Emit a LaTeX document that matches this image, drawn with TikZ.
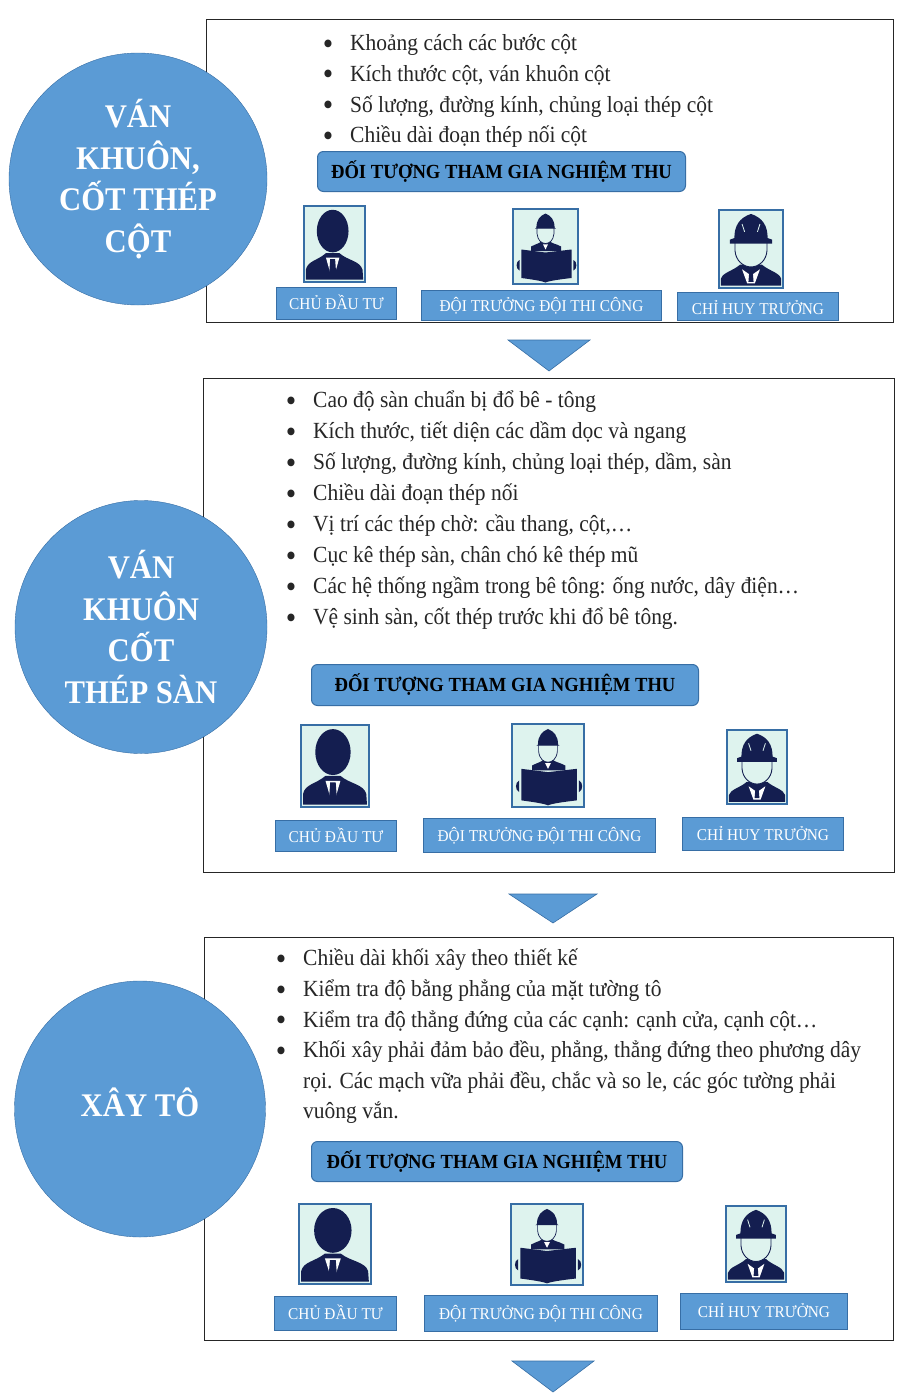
\documentclass[tikz,border=0pt]{standalone}
\usepackage{fontspec}
\setmainfont[FakeStretch=0.93]{Liberation Serif}
\usetikzlibrary{shapes.geometric}
\definecolor{capblue}{RGB}{91,155,213}
\definecolor{edgeblue}{RGB}{55,110,165}
\definecolor{photomint}{RGB}{222,243,238}
\definecolor{navyman}{RGB}{20,30,80}
\newcommand{\bul}{\leavevmode\llap{\raisebox{-3.8pt}{\fontsize{32}{32}\selectfont\textbullet}\hspace{17pt}}}
\tikzset{
panel/.style={draw=black!85,line width=1pt,fill=white,anchor=north west,inner sep=0pt},
topic/.style={ellipse,draw=edgeblue,fill=capblue,align=center,text=white,inner sep=0pt,font=\fontsize{33}{41.5}\selectfont\bfseries},
bullets/.style={anchor=north west,align=left,inner sep=0pt,text=black!85,font=\fontsize{23.1}{30.9}\selectfont},
heading/.style={draw=edgeblue,line width=1pt,fill=capblue,rounded corners=6pt,anchor=north west,inner sep=0pt,font=\fontsize{20}{24}\selectfont\bfseries},
rolebox/.style={draw=edgeblue,line width=1pt,fill=capblue,text=white,anchor=north west,inner sep=0pt,text height=12pt,text depth=0pt,font=\fontsize{16.5}{20}\selectfont},
flowtip/.style={draw=edgeblue,fill=capblue,line width=.6pt},
pics/investor/.style={code={
\draw[draw=edgeblue,line width=1.2pt,fill=photomint] (0,0) rectangle (100,100);
\fill[navyman] (3,97)--(3,84) .. controls (6,72) and (22,72) .. (36,62)--(58,62) .. controls (72,72) and (92,72) .. (96,84)--(97,97)--cycle;
\fill[white!85!photomint] (36,68)--(58,68)--(51,88)--(43,88)--cycle;
\fill[navyman] (43,70)--(51,70)--(53,92)--(41,92)--cycle;
\fill[navyman] (47,33) ellipse (26 and 28);
}},
pics/builder/.style={code={
\draw[draw=edgeblue,line width=1.2pt,fill=photomint] (0,0) rectangle (100,100);
\fill[navyman] (28,56)--(28,50) .. controls (36,46) and (42,46) .. (44,42)--(56,42) .. controls (58,46) and (66,46) .. (74,50)--(74,56)--cycle;
\draw[navyman,fill=photomint,line width=.7pt] (37,25)--(37,33) .. controls (38,42) and (44,46) .. (50,46) .. controls (56,46) and (62,42) .. (63,33)--(63,25)--cycle;
\fill[white] (46,47)--(54,47)--(50,54)--cycle;
\fill[navyman] (34,26)--(36,25) .. controls (36,14) and (42,9) .. (50,6) .. controls (58,9) and (64,14) .. (64,25)--(66,26)--cycle;
\fill[navyman] (13,54)--(50,58)--(90,54)--(90,92) .. controls (70,94) and (55,96) .. (50,98) .. controls (45,96) and (30,94) .. (13,92)--cycle;
\fill[navyman] (10,68) .. controls (4,70) and (4,80) .. (10,82)--cycle;
\fill[navyman] (93,68) .. controls (99,70) and (99,80) .. (93,82)--cycle;
}},
pics/commander/.style={code={
\draw[draw=edgeblue,line width=1.2pt,fill=photomint] (0,0) rectangle (100,100);
\fill[navyman] (3,97)--(3,88) .. controls (6,80) and (22,78) .. (33,70)--(67,70) .. controls (78,78) and (94,80) .. (97,88)--(97,97)--cycle;
\draw[navyman,fill=photomint,line width=.9pt] (25,40)--(25,52) .. controls (26,65) and (38,73) .. (50,73) .. controls (62,73) and (74,65) .. (75,52)--(75,40)--cycle;
\fill[white] (36,76)--(50,84)--(64,76)--(56,94)--(44,94)--cycle;
\fill[navyman] (47,82)--(53,82)--(54,92)--(46,92)--cycle;
\fill[navyman] (17,43)--(17,38)--(24,36) .. controls (24,20) and (32,10) .. (50,5) .. controls (68,10) and (76,20) .. (76,36)--(83,38)--(83,43)--cycle;
\draw[photomint,line width=.8pt] (36,18)--(40,28) (64,18)--(60,28);
}}
}
\begin{document}
\begin{tikzpicture}[x=1pt,y=-1pt]
\useasboundingbox (0,0) rectangle (900,1400);
\node[panel,minimum width=687,minimum height=303] (panelcot) at (206,19) {};
\node[panel,minimum width=691,minimum height=494] (panelsan) at (203,378) {};
\node[panel,minimum width=689,minimum height=403] (panelxay) at (204,937) {};
\node[topic,minimum width=258,minimum height=252] (topiccot) at (138,179) {VÁN\\KHUÔN,\\CỐT THÉP\\CỘT};
\node[topic,minimum width=252,minimum height=253] (topicsan) at (141,627) {VÁN\\KHUÔN\\CỐT\\THÉP SÀN};
\node[topic,minimum width=251,minimum height=256] (topicxay) at (140,1109) {\raisebox{13pt}{XÂY TÔ}};
\node[bullets] (listcot) at (350,34) {\bul Khoảng cách các bước cột\\\bul Kích thước cột, ván khuôn cột\\\bul Số lượng, đường kính, chủng loại thép cột\\\bul Chiều dài đoạn thép nối cột};
\node[bullets] (listsan) at (313,391) {\bul Cao độ sàn chuẩn bị đổ bê - tông\\\bul Kích thước, tiết diện các dầm dọc và ngang\\\bul Số lượng, đường kính, chủng loại thép, dầm, sàn\\\bul Chiều dài đoạn thép nối\\\bul Vị trí các thép chờ: cầu thang, cột,…\\\bul Cục kê thép sàn, chân chó kê thép mũ\\\bul Các hệ thống ngầm trong bê tông: ống nước, dây điện…\\\bul Vệ sinh sàn, cốt thép trước khi đổ bê tông.};
\node[bullets,font=\fontsize{23.1}{30.6}\selectfont] (listxay) at (303,949) {\bul Chiều dài khối xây theo thiết kế\\\bul Kiểm tra độ bằng phẳng của mặt tường tô\\\bul Kiểm tra độ thẳng đứng của các cạnh: cạnh cửa, cạnh cột…\\\bul Khối xây phải đảm bảo đều, phẳng, thẳng đứng theo phương dây\\rọi. Các mạch vữa phải đều, chắc và so le, các góc tường phải\\vuông vắn.};
\node[heading,minimum width=368,minimum height=40] (headcot) at (317,151) {ĐỐI TƯỢNG THAM GIA NGHIỆM THU};
\node[heading,minimum width=387,minimum height=41] (headsan) at (311,664) {ĐỐI TƯỢNG THAM GIA NGHIỆM THU};
\node[heading,minimum width=371,minimum height=40] (headxay) at (311,1141) {ĐỐI TƯỢNG THAM GIA NGHIỆM THU};
\pic[xscale=.61,yscale=.76] (mancot1) at (304,206) {investor};
\pic[xscale=.65,yscale=.75] (mancot2) at (513,209) {builder};
\pic[xscale=.64,yscale=.78] (mancot3) at (719,210) {commander};
\pic[xscale=.68,yscale=.82] (mansan1) at (301,725) {investor};
\pic[xscale=.72,yscale=.83] (mansan2) at (512,724) {builder};
\pic[xscale=.60,yscale=.74] (mansan3) at (727,730) {commander};
\pic[xscale=.72,yscale=.80] (manxay1) at (299,1204) {investor};
\pic[xscale=.72,yscale=.81] (manxay2) at (511,1204) {builder};
\pic[xscale=.60,yscale=.76] (manxay3) at (726,1206) {commander};
\node[rolebox,minimum width=120,minimum height=32] (rolecot1) at (276,287) {CHỦ ĐẦU TƯ};
\node[rolebox,minimum width=240,minimum height=30] (rolecot2) at (421,290) {ĐỘI TRƯỞNG ĐỘI THI CÔNG};
\node[rolebox,minimum width=161,minimum height=28] (rolecot3) at (677,292) {\raisebox{-2pt}{CHỈ HUY TRƯỞNG}};
\node[rolebox,minimum width=121,minimum height=31] (rolesan1) at (275,820) {CHỦ ĐẦU TƯ};
\node[rolebox,minimum width=232,minimum height=34] (rolesan2) at (423,818) {ĐỘI TRƯỞNG ĐỘI THI CÔNG};
\node[rolebox,minimum width=161,minimum height=33] (rolesan3) at (682,817) {CHỈ HUY TRƯỞNG};
\node[rolebox,minimum width=122,minimum height=34] (rolexay1) at (274,1296) {CHỦ ĐẦU TƯ};
\node[rolebox,minimum width=233,minimum height=36] (rolexay2) at (424,1295) {ĐỘI TRƯỞNG ĐỘI THI CÔNG};
\node[rolebox,minimum width=167,minimum height=36] (rolexay3) at (680,1293) {CHỈ HUY TRƯỞNG};
\draw[flowtip] (508,340)--(590,340)--(549,371)--cycle;
\draw[flowtip] (509,894)--(597,894)--(553,923)--cycle;
\draw[flowtip] (512,1361)--(594,1361)--(553,1392)--cycle;
\end{tikzpicture}
\end{document}
